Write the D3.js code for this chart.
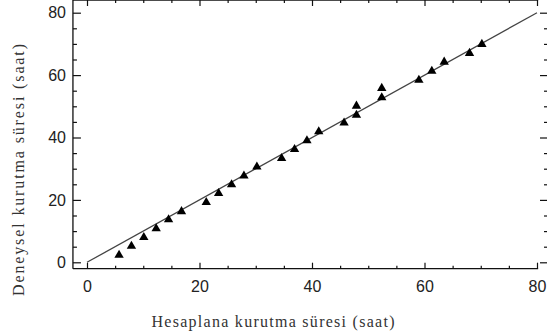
<!DOCTYPE html>
<html>
<head>
<meta charset="utf-8">
<script src="https://cdn.jsdelivr.net/npm/d3@7"></script>
<style>
  body { margin: 0; background: #fff; }
  .tick text { font-family: "Liberation Sans", Arial, sans-serif; font-size: 16px; fill: #222; }
  .axis path { display: none; }
  .axis line { stroke: #111; stroke-width: 1.2; }
  .title { font-family: "Liberation Serif", "Times New Roman", serif; font-size: 16px; fill: #333; }
</style>
</head>
<body>
<svg id="chart" width="547" height="334"></svg>
<script>
// hesaplanan (x) vs deneysel (y) kurutma süresi
var calcTime = [5.7, 7.9, 10.1, 12.3, 14.5, 16.8, 21.2, 23.4, 25.7, 27.9, 30.2, 34.6, 36.9, 39.1, 41.2, 45.7, 47.9, 47.9, 52.4, 52.4, 59.0, 61.3, 63.5, 68.0, 70.2];
var expTime  = [2.3, 5.2, 8.0, 10.8, 13.7, 16.3, 19.2, 22.1, 24.9, 27.7, 30.6, 33.3, 36.2, 39.0, 41.9, 44.7, 47.2, 50.1, 52.8, 55.8, 58.4, 61.3, 64.2, 67.0, 69.9];
var fitLine = [[0, 0], [80, 80]];
var majorTicks = [0, 20, 40, 60, 80];
var minorTicks = [5, 10, 15, 25, 30, 35, 45, 50, 55, 65, 70, 75];

var svg = d3.select("#chart");

var x = d3.scaleLinear().domain([0, 80]).range([87, 537]);
var y = d3.scaleLinear().domain([0, 80]).range([262.3, 12.7]);

// frame edges
var left = x(-2.5), right = x(80.2), top = y(82.5), bottom = y(-2.05);

// frame lines (right side is cut off in original)
svg.append("g")
  .selectAll("line")
  .data([[left, top, right, top], [left, bottom, right, bottom], [left, top, left, bottom]])
  .enter().append("line")
  .attr("x1", d => d[0]).attr("y1", d => d[1])
  .attr("x2", d => d[2]).attr("y2", d => d[3])
  .attr("stroke", "#111").attr("stroke-width", 1.3);

// left axis
svg.append("g").attr("class", "axis")
  .attr("transform", `translate(${left},0)`)
  .call(d3.axisLeft(y).tickValues(majorTicks).tickSize(-8).tickPadding(7).tickFormat(d3.format("d")));
svg.append("g").attr("class", "axis")
  .attr("transform", `translate(${left},0)`)
  .call(d3.axisLeft(y).tickValues(minorTicks).tickSize(-4).tickFormat(""));

// bottom axis
svg.append("g").attr("class", "axis")
  .attr("transform", `translate(0,${bottom})`)
  .call(d3.axisBottom(x).tickValues(majorTicks).tickSize(-6).tickPadding(12).tickFormat(d3.format("d")));
svg.append("g").attr("class", "axis")
  .attr("transform", `translate(0,${bottom})`)
  .call(d3.axisBottom(x).tickValues(minorTicks).tickSize(-3).tickFormat(""));

// top axis
svg.append("g").attr("class", "axis")
  .attr("transform", `translate(0,${top})`)
  .call(d3.axisTop(x).tickValues(majorTicks).tickSize(-6).tickFormat(""));
svg.append("g").attr("class", "axis")
  .attr("transform", `translate(0,${top})`)
  .call(d3.axisTop(x).tickValues(minorTicks).tickSize(-3).tickFormat(""));

// right axis (ticks only)
svg.append("g").attr("class", "axis")
  .attr("transform", `translate(547,0)`)
  .call(d3.axisRight(y).tickValues(majorTicks).tickSize(-7).tickFormat(""));
svg.append("g").attr("class", "axis")
  .attr("transform", `translate(547,0)`)
  .call(d3.axisRight(y).tickValues(minorTicks).tickSize(-3).tickFormat(""));

// y = x line
svg.append("path")
  .datum(fitLine)
  .attr("d", d3.line().x(d => x(d[0])).y(d => y(d[1])))
  .attr("fill", "none")
  .attr("stroke", "#444")
  .attr("stroke-width", 1.3);

// triangles
var tri = d3.symbol().type(d3.symbolTriangle).size(38);
svg.append("g")
  .selectAll("path")
  .data(calcTime.map((v, i) => [v, expTime[i]]))
  .enter().append("path")
  .attr("d", tri)
  .attr("transform", d => `translate(${x(d[0])},${y(d[1])})`)
  .attr("fill", "#000");

// axis titles
svg.append("text").attr("class", "title")
  .attr("x", 273).attr("y", 327)
  .attr("text-anchor", "middle")
  .attr("textLength", 243).attr("lengthAdjust", "spacing")
  .text("Hesaplana kurutma süresi (saat)");

svg.append("text").attr("class", "title")
  .attr("transform", "translate(24,170) rotate(-90)")
  .attr("text-anchor", "middle")
  .attr("textLength", 252).attr("lengthAdjust", "spacing")
  .text("Deneysel kurutma süresi (saat)");
</script>
</body>
</html>
